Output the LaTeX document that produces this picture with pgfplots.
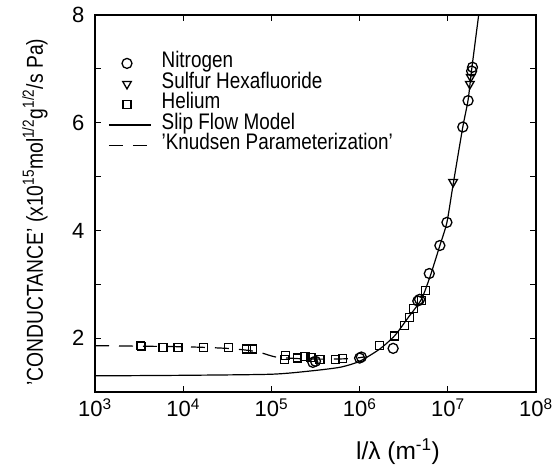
\documentclass[border=0pt]{standalone}
\usepackage{fontspec}
\setmainfont{Liberation Sans}[FakeStretch=0.84]
\newfontfamily\tickfont{Liberation Sans}
\usepackage{pgfplots}
\pgfplotsset{compat=1.18}
\pgfplotsset{
  linelegend/.style={legend image code/.code={\draw[##1] (0pt,0pt) -- (42pt,0pt);}},
  marklegend/.style={legend image code/.code={\path (0pt,0pt) (42pt,0pt);\draw[##1] plot coordinates {(18pt,0pt)};}},
}

\begin{document}
\begin{tikzpicture}
\useasboundingbox (-95pt,-72pt) rectangle (461pt,392pt);
\begin{axis}[
  at={(0pt,0pt)}, anchor=south west,
  scale only axis, width=441pt, height=377pt,
  xmode=log, log basis x=10,
  xmin=1e3, xmax=1e8, ymin=1, ymax=8,
  xminorticks=false,
  xtick={1e3,1e4,1e5,1e6,1e7,1e8},
  xticklabels={10\textsuperscript{3},10\textsuperscript{4},10\textsuperscript{5},10\textsuperscript{6},10\textsuperscript{7},10\textsuperscript{8}},
  ytick={1,2,3,4,5,6,7,8},
  yticklabels={,2,,4,,6,,8},
  tick align=inside,
  major tick length=6pt,
  tick style={line width=1pt, black},
  axis line style={line width=1.4pt},
  xticklabel style={font=\tickfont\fontsize{22}{24}\selectfont, yshift=-3pt},
  yticklabel style={font=\tickfont\fontsize{22}{24}\selectfont, xshift=-7pt},
  xlabel={l/λ (m\textsuperscript{-1})},
  xlabel style={font=\tickfont\fontsize{24.5}{28}\selectfont, at={(rel axis cs:0.687,-0.180)}, anchor=base},
  ylabel={'CONDUCTANCE' (x10\textsuperscript{15}mol\textsuperscript{1/2}g\textsuperscript{1/2}/s Pa)},
  ylabel style={font=\fontsize{23}{26}\selectfont, at={(rel axis cs:-0.118,0.477)}, anchor=base, rotate=0},
  legend cell align=left,
  legend style={at={(rel axis cs:0.023,0.900)}, anchor=north west, draw=none, fill=none,
    font=\fontsize{22.5}{26}\selectfont,
    nodes={inner sep=0pt, text height=13pt, text depth=4pt},
    row sep=3.5pt,
    /tikz/every odd column/.append style={column sep=10pt}},
  linelegend,
]
\addplot[only marks, mark=o, mark size=5pt, line width=1.3pt, black, marklegend]
  coordinates {
  (295121,1.55) (316228,1.57) (1e6,1.63) (1.047e6,1.65) (2.399e6,1.81)
  (4.571e6,2.69) (4.786e6,2.72) (6.166e6,3.20) (8.128e6,3.72) (9.772e6,4.15)
  (1.479e7,5.92) (1.698e7,6.41) (1.862e7,6.96) (1.905e7,7.03)
  };
\addlegendentry{Nitrogen}
\addplot[only marks, mark=triangle, mark options={rotate=180}, mark size=5pt, line width=1.3pt, black, marklegend]
  coordinates {
  (1.148e7,4.90) (1.778e7,6.72) (1.820e7,6.85)
  };
\addlegendentry{Sulfur Hexafluoride}
\addplot[only marks, mark=square, mark size=4pt, line width=1.2pt, black, marklegend]
  coordinates {
  (3311,1.87) (3388,1.84) (5888,1.83) (8710,1.82) (16982,1.82) (32359,1.82)
  (52481,1.80) (61660,1.80) (141254,1.61) (144544,1.68) (199526,1.63)
  (239883,1.66) (281838,1.64) (354813,1.61) (537032,1.60) (645654,1.62)
  (1.698e6,1.87) (2.512e6,2.04) (3.236e6,2.23) (3.715e6,2.39) (4.074e6,2.55)
  (5.012e6,2.70) (5.623e6,2.89)
  };
\addlegendentry{Helium}
\addplot[black, line width=1.2pt, smooth, tension=0.4] coordinates {
  (1e3,1.30) (1e4,1.31) (1e5,1.33) (2.754e5,1.39) (6.026e5,1.46) (1e6,1.57)
  (1.698e6,1.80) (2.512e6,2.05) (3.548e6,2.38) (5.012e6,2.72) (6.310e6,3.15)
  (8.128e6,3.72) (9.772e6,4.15) (1.148e7,4.85) (1.479e7,5.92) (1.698e7,6.42)
  (1.862e7,6.98) (2.239e7,8.0)
  };
\addlegendentry{Slip Flow Model}
\addplot[black, line width=1.2pt, dash pattern=on 14pt off 10pt, smooth, tension=0.4] coordinates {
  (1e3,1.86) (1e4,1.84) (31623,1.81) (56234,1.77) (79433,1.72) (112202,1.65)
  (199526,1.62) (398107,1.61) (794328,1.62) (1.122e6,1.65)
  };
\addlegendentry{'Knudsen Parameterization'}
\end{axis}
\end{tikzpicture}
\end{document}
